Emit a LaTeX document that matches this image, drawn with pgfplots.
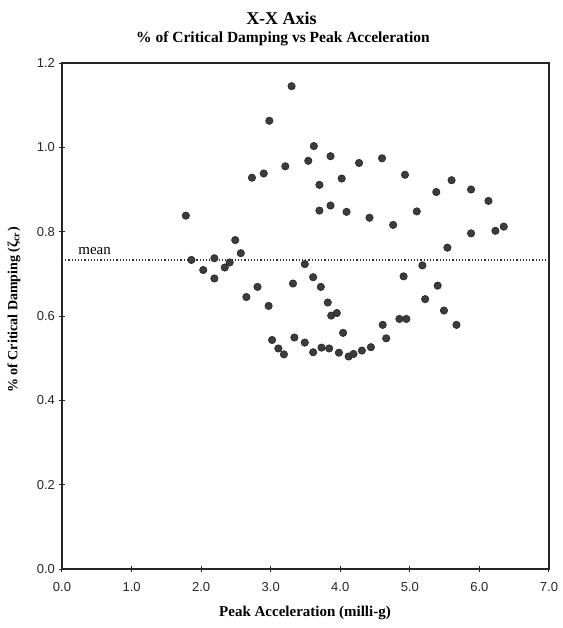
\documentclass[border=0pt]{standalone}
\usepackage{fontspec}
\setmainfont{Liberation Serif}
\newfontfamily\tickfont{Liberation Sans}
\usepackage{pgfplots}
\pgfplotsset{compat=1.18}
\definecolor{dotc}{HTML}{3C3C3C}
\begin{document}
\begin{tikzpicture}
\begin{axis}[
  scale only axis,
  width=243.5pt, height=253pt,
  xmin=0, xmax=7, ymin=0, ymax=1.2,
  xtick={0,1,...,7}, ytick={0,0.2,...,1.2},
  xticklabel style={/pgf/number format/.cd,fixed,fixed zerofill,precision=1},
  yticklabel style={/pgf/number format/.cd,fixed,fixed zerofill,precision=1},
  /pgf/number format/assume math mode=true,
  tick label style={font=\tickfont\fontsize{6.5}{7}\selectfont, text=black!85},
  xtick pos=bottom, ytick pos=left,
  tick align=center, major tick length=3pt,
  axis line style={line width=0.6pt, black!85},
  tick style={black!85, line width=0.5pt},
  xticklabel shift=1.5pt, yticklabel shift=-1.5pt,
  clip=false,
]
\addplot[black!80, densely dotted, line width=0.6pt] coordinates {(0,0.733) (7,0.733)};
\addplot[only marks, mark=*, mark size=1.85pt, mark options={fill=dotc, draw=black!85, line width=0.3pt}] table {
x y
1.78 0.838
1.86 0.733
2.03 0.709
2.19 0.737
2.19 0.689
2.34 0.715
2.41 0.727
2.49 0.780
2.57 0.749
2.65 0.645
2.73 0.928
2.81 0.669
2.90 0.938
2.97 0.624
2.98 1.063
3.02 0.543
3.11 0.523
3.19 0.509
3.21 0.955
3.30 1.145
3.32 0.677
3.34 0.549
3.49 0.723
3.49 0.537
3.54 0.968
3.61 0.692
3.61 0.514
3.62 1.003
3.70 0.911
3.70 0.850
3.72 0.669
3.73 0.525
3.82 0.632
3.84 0.523
3.86 0.979
3.86 0.862
3.87 0.601
3.95 0.607
3.98 0.513
4.02 0.926
4.04 0.560
4.09 0.847
4.12 0.504
4.19 0.510
4.27 0.963
4.31 0.518
4.42 0.833
4.44 0.526
4.60 0.974
4.61 0.579
4.66 0.547
4.76 0.816
4.85 0.593
4.91 0.694
4.93 0.935
4.95 0.593
5.10 0.848
5.18 0.720
5.22 0.640
5.38 0.894
5.40 0.672
5.49 0.613
5.54 0.762
5.60 0.922
5.67 0.579
5.88 0.900
5.88 0.796
6.13 0.873
6.23 0.802
6.35 0.812
};
\node[anchor=south west, inner sep=0pt, font=\fontsize{7.5}{8}\selectfont] at (axis cs:0.23,0.745) {mean};
\coordinate (sw) at (rel axis cs:0,0);
\coordinate (ne) at (rel axis cs:1,1);
\end{axis}
\node[font=\bfseries\fontsize{9}{10}\selectfont] at ([shift={(109.75pt,22.5pt)}]sw |- ne) {X-X Axis};
\node[font=\bfseries\fontsize{7.75}{8}\selectfont] at ([shift={(110.5pt,12pt)}]sw |- ne) {\% of Critical Damping vs Peak Acceleration};
\node[font=\bfseries\fontsize{7.5}{8}\selectfont] at ([shift={(121.5pt,-22pt)}]sw) {Peak Acceleration (milli-g)};
\node[font=\bfseries\fontsize{7}{8}\selectfont, rotate=90] at ([shift={(-24pt,129.5pt)}]sw) {\% of Critical Damping (ζ\textsubscript{cr})};
\pgfresetboundingbox
\path[use as bounding box] ([shift={(-31pt,-29.5pt)}]sw) rectangle ([shift={(7pt,31.5pt)}]ne);
\end{tikzpicture}
\end{document}
